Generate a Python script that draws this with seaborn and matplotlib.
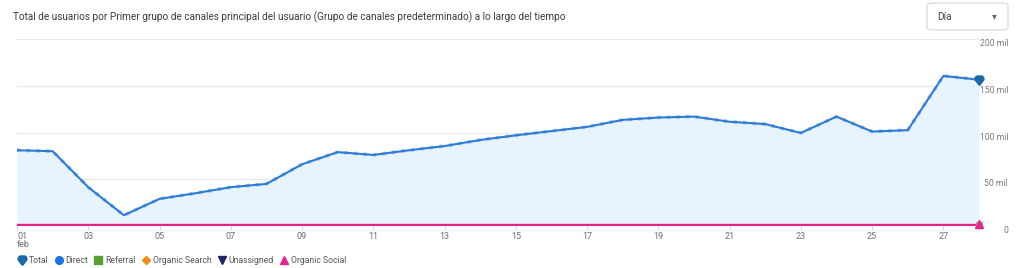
import numpy as np
import pandas as pd
import matplotlib
matplotlib.use("Agg")
import matplotlib.pyplot as plt
import seaborn as sns
from matplotlib.lines import Line2D
from matplotlib.patches import FancyBboxPatch
from matplotlib.path import Path

# ---- data ----
days = list(range(1, 29))
total = [81, 80, 41.5, 11.5, 29, 35, 41.5, 45, 66, 79, 76, 81, 85.5, 92,
         97, 101.5, 106, 113.5, 116, 117, 111.5, 109, 99.5, 117, 101, 102.5,
         160.5, 156.5]
total = [v * 1000 for v in total]
social = [900] * 28
tick_days = list(range(1, 29, 2))
tick_labels = ["01\nfeb"] + [f"{d:02d}" for d in tick_days[1:]]
ytick_vals = [0, 50000, 100000, 150000, 200000]
ytick_labels = ["0", "50 mil", "100 mil", "150 mil", "200 mil"]
legend_names = ["Total", "Direct", "Referral", "Organic Search", "Unassigned", "Organic Social"]
legend_colors = ["#1a6aa8", "#1a73e8", "#5a9e34", "#f28b18", "#1d2470", "#e52592"]

title = "Total de usuarios por Primer grupo de canales principal del usuario (Grupo de canales predeterminado) a lo largo del tiempo"

sns.set_theme(style="white")
plt.rcParams["font.family"] = ["Roboto", "DejaVu Sans"]

W, H = 1024, 268
fig = plt.figure(figsize=(W / 100, H / 100), dpi=100)
ax = fig.add_axes([17 / W, (H - 226) / H, (979 - 17) / W, 187 / H])

df = pd.DataFrame({"day": days, "total": total, "social": social})

ax.fill_between(df["day"], 0, df["total"], color="#e8f4fd", zorder=1, lw=0)
sns.lineplot(data=df, x="day", y="total", ax=ax, color="#9cc4ee", lw=2.6, ls=":", zorder=2)
sns.lineplot(data=df, x="day", y="total", ax=ax, color="#2b7bd6", lw=1.5, zorder=3)
sns.lineplot(data=df, x="day", y="social", ax=ax, color="#e3247f", lw=1.7, zorder=4)

# end markers
pin = Path([(-1, 0.2), (-0.9, 0.75), (-0.5, 1.0), (0.5, 1.0), (0.9, 0.75), (1, 0.2), (0.1, -1.0), (-0.1, -1.0), (-1, 0.2)],
           [Path.MOVETO] + [Path.LINETO] * 7 + [Path.CLOSEPOLY])
ax.plot([days[-1]], [total[-1]], marker=pin, ms=6.5, color="#1a6aa8", zorder=5, clip_on=False)
ax.plot([days[-1]], [social[-1]], marker="s", ms=5, color="#8fbf6e", zorder=5, clip_on=False)
ax.plot([days[-1]], [social[-1] + 1500], marker="^", ms=5.5, color="#e52592", zorder=6, clip_on=False)

ax.set_xlim(1, 28)
ax.set_ylim(0, 200000)
ax.set_xlabel("")
ax.set_ylabel("")
for s in ax.spines.values():
    s.set_visible(False)

ax.set_yticks(ytick_vals)
ax.set_yticklabels(ytick_labels)
ax.yaxis.tick_right()
ax.tick_params(axis="y", length=0, pad=21, labelsize=6.2, labelcolor="#7a7a7a")
for lab in ax.get_yticklabels():
    lab.set_ha("right")
    lab.set_va("top")
ax.grid(axis="y", color="#e9e9e9", lw=0.9)
ax.grid(axis="x", visible=False)

ax.set_xticks(tick_days)
ax.set_xticklabels(tick_labels)
ax.tick_params(axis="x", length=3, width=0.6, color="#cccccc", pad=1, labelsize=6.5, labelcolor="#6f6f6f", bottom=True)
for i, lab in enumerate(ax.get_xticklabels()):
    lab.set_va("top")
    lab.set_linespacing(0.95)
    if i == 0:
        lab.set_ha("left")

# title
fig.text(13 / W, 1 - 17 / H, title, fontsize=7.2, color="#3c3c3c", va="center", ha="left")

# dropdown
box = FancyBboxPatch((927 / W, 1 - 30 / H), 81 / W, 27 / H, boxstyle="round,pad=0,rounding_size=0.008",
                     transform=fig.transFigure, fc="white", ec="#dadada", lw=0.9)
fig.patches.append(box)
fig.text(937 / W, 1 - 16.5 / H, "Día", fontsize=7.2, color="#444444", va="center", ha="left")
fig.text(994 / W, 1 - 16.5 / H, "\u25BE", fontsize=7, color="#666666", va="center", ha="center",
         family=["DejaVu Sans"])

# legend
markers = [pin, "o", "s", "D", "v", "^"]
sizes = [6.5, 5.5, 5.5, 4.5, 5.5, 5.5]
handles = [Line2D([], [], ls="none", marker=m, ms=s, color=c) for m, s, c in zip(markers, sizes, legend_colors)]
leg = fig.legend(handles, legend_names, loc="center left", bbox_to_anchor=(18 / W, 1 - 260.5 / H),
                 ncol=6, frameon=False, fontsize=6.2, handlelength=0.9, handletextpad=0.36,
                 columnspacing=0.72, borderaxespad=0, borderpad=0)
for t in leg.get_texts():
    t.set_color("#555555")

fig.savefig("out.png", dpi=100)
